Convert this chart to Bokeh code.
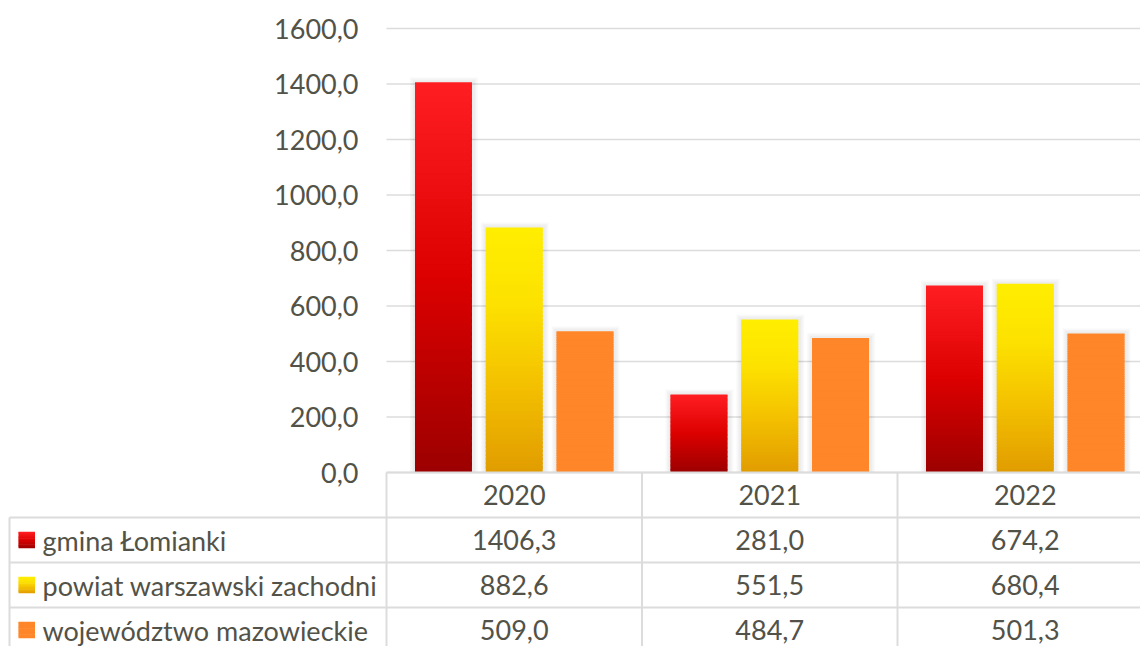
from bokeh.plotting import figure
from bokeh.models import Range1d
from bokeh.core.properties import value
from bokeh.embed import file_html
from bokeh.resources import INLINE

# ---------------- data ----------------
years = ["2020", "2021", "2022"]
series_names = ["gmina Łomianki", "powiat warszawski zachodni", "województwo mazowieckie"]
gmina = [1406.3, 281.0, 674.2]
powiat = [882.6, 551.5, 680.4]
wojewodztwo = [509.0, 484.7, 501.3]
y_ticks = [0, 200, 400, 600, 800, 1000, 1200, 1400, 1600]

series_values = [gmina, powiat, wojewodztwo]

# ---------------- style / layout ----------------
FONT = "Lato"
FSIZE = "27px"
TXT = "#525248"
GRID = "#dcdcdc"
grad = [
    [(0.0, "#9c0000"), (0.5, "#dc0000"), (1.0, "#ff1f23")],
    [(0.0, "#e19c00"), (0.35, "#f3c000"), (0.7, "#fde200"), (1.0, "#ffee00")],
    [(0.0, "#ff8629"), (1.0, "#ff8629")],
]
offsets = [-0.277, 0.0, 0.277]
BAR_W = 0.223

W, H = 1140, 646
PLOT_L, PLOT_T, PLOT_B = 386, 28, 472     # plot-area edges (px)
PX = 255.5                               # px per category
ypx = 1600.0 / (PLOT_B - PLOT_T)         # value units per px
xpx = 1.0 / PX
x_start, x_end = -PLOT_L * xpx, (W - PLOT_L) * xpx
y_start, y_end = -(H - PLOT_B) * ypx, 1600 + PLOT_T * ypx
N = 60


def hex2rgb(h):
    h = h.lstrip("#")
    return tuple(int(h[i:i + 2], 16) for i in (0, 2, 4))


def interp(stops, t):
    for (p0, c0), (p1, c1) in zip(stops[:-1], stops[1:]):
        if p0 <= t <= p1:
            f = 0 if p1 == p0 else (t - p0) / (p1 - p0)
            a, b = hex2rgb(c0), hex2rgb(c1)
            return "#%02x%02x%02x" % tuple(round(a[i] + (b[i] - a[i]) * f) for i in range(3))
    return stops[-1][1]


def X(px):   # page x (px) -> category units
    return (px - PLOT_L) * xpx


def Y(py):   # page y (px) -> value units
    return (PLOT_B - py) * ypx


p = figure(width=W, height=H, x_range=Range1d(x_start, x_end), y_range=Range1d(y_start, y_end),
           output_backend="svg", toolbar_location=None, min_border=0)
p.outline_line_color = None
p.xaxis.visible = False
p.yaxis.visible = False
p.xgrid.visible = False
p.ygrid.visible = False
p.background_fill_color = "white"
p.border_fill_color = "white"

txt = dict(text_font=value(FONT), text_font_size=FSIZE, text_color=TXT, text_baseline="middle")

# value axis: gridlines + labels
p.segment(x0=[0] * len(y_ticks), y0=y_ticks, x1=[x_end] * len(y_ticks), y1=y_ticks,
          line_color=GRID, line_width=1.5)
p.text(x=[X(358)] * len(y_ticks), y=y_ticks,
       text=[("%.1f" % v).replace(".", ",") for v in y_ticks], text_align="right", **txt)

# soft shadows
for s, vals in enumerate(series_values):
    for e in (5, 3.5, 2):
        L, R, B, T = [], [], [], []
        for i, v in enumerate(vals):
            c = i + 0.5 + offsets[s]
            L.append(c - BAR_W / 2 - e * xpx)
            R.append(c + BAR_W / 2 + e * xpx + 1 * xpx)
            B.append(0)
            T.append(v + e * ypx)
        p.quad(left=L, right=R, bottom=B, top=T, fill_color="black", fill_alpha=0.025,
               line_color=None)

# gradient bars
for s, vals in enumerate(series_values):
    L, R, B, T, C = [], [], [], [], []
    for i, v in enumerate(vals):
        c = i + 0.5 + offsets[s]
        for k in range(N):
            L.append(c - BAR_W / 2)
            R.append(c + BAR_W / 2)
            B.append(v * k / N)
            T.append(min(v, v * (k + 1.6) / N))
            C.append(interp(grad[s], (k + 0.5) / N))
    p.quad(left=L, right=R, bottom=B, top=T, fill_color=C, line_color=None)

# ---------------- data table ----------------
ROW = 45.0
rows_y = [PLOT_B + r * ROW for r in range(5)]       # row boundaries (px)
x_left = X(9)
# horizontal lines
p.segment(x0=[0], y0=[0], x1=[x_end], y1=[0], line_color=GRID, line_width=2)
p.segment(x0=[x_left] * 3, y0=[Y(rows_y[r]) for r in (1, 2, 3)],
          x1=[x_end] * 3, y1=[Y(rows_y[r]) for r in (1, 2, 3)], line_color=GRID, line_width=2)
# vertical lines
p.segment(x0=[x_left], y0=[Y(rows_y[1])], x1=[x_left], y1=[y_start], line_color=GRID, line_width=2)
p.segment(x0=[0, 1, 2], y0=[0, 0, 0], x1=[0, 1, 2], y1=[y_start] * 3, line_color=GRID, line_width=2)

# header
p.text(x=[i + 0.5 for i in range(len(years))], y=[Y(PLOT_B + ROW / 2)] * len(years),
       text=years, text_align="center", **txt)
# values
for r, vals in enumerate(series_values):
    p.text(x=[i + 0.5 for i in range(len(vals))], y=[Y(PLOT_B + (r + 1.5) * ROW)] * len(vals),
           text=[("%.1f" % v).replace(".", ",") for v in vals], text_align="center", **txt)
# row labels
p.text(x=[X(42)] * 3, y=[Y(PLOT_B + (r + 1.5) * ROW) for r in range(3)], text=series_names,
       text_align="left", **txt)

# legend keys (gradient squares)
KS = 16.5
M = 14
for s in range(3):
    yc = PLOT_B + (s + 1.5) * ROW
    kb, kt = Y(yc + KS / 2), Y(yc - KS / 2)
    h = kt - kb
    p.quad(left=[X(18)] * M, right=[X(18 + KS)] * M,
           bottom=[kb + h * k / M for k in range(M)],
           top=[min(kt, kb + h * (k + 1.5) / M) for k in range(M)],
           fill_color=[interp(grad[s], (k + 0.5) / M) for k in range(M)], line_color=None)

open("out.html", "w").write(file_html(p, INLINE))
